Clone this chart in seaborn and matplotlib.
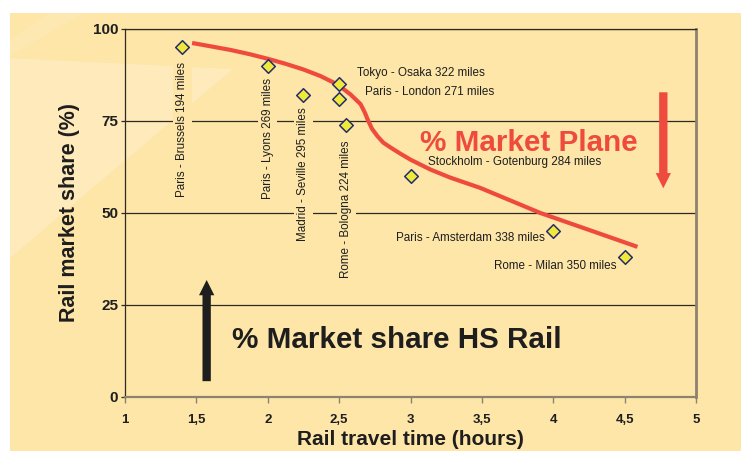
import matplotlib
matplotlib.use("Agg")
import matplotlib.pyplot as plt
import seaborn as sns
import pandas as pd
from matplotlib.patches import Rectangle, Polygon

# ---- data -------------------------------------------------------------
routes = [
    "Paris - Brussels 194 miles",
    "Paris - Lyons 269 miles",
    "Madrid - Seville 295 miles",
    "Tokyo - Osaka 322 miles",
    "Paris - London 271 miles",
    "Rome - Bologna 224 miles",
    "Stockholm - Gotenburg 284 miles",
    "Paris - Amsterdam 338 miles",
    "Rome - Milan 350 miles",
]
travel_hours = [1.4, 2.0, 2.25, 2.5, 2.5, 2.55, 3.0, 4.0, 4.5]
rail_share = [95, 90, 82, 85, 81, 74, 60, 45, 38]

# plane market trend line
plane_hours = [1.47, 1.60, 1.74, 1.88, 2.00, 2.12, 2.25, 2.37, 2.49, 2.58,
               2.65, 2.68, 2.70, 2.73, 2.77, 2.81, 2.86, 2.93, 3.00, 3.14,
               3.28, 3.49, 3.91, 4.31, 4.59]
plane_share = [96.2, 95.3, 94.3, 93.1, 91.9, 90.6, 89.0, 87.2, 84.9, 82.2,
               79.6, 77.3, 75.4, 72.9, 70.8, 69.1, 67.8, 66.1, 64.5, 61.8,
               59.6, 56.8, 50.0, 44.6, 40.8]

x_ticks = [1, 1.5, 2, 2.5, 3, 3.5, 4, 4.5, 5]
x_tick_labels = ["1", "1,5", "2", "2,5", "3", "3,5", "4", "4,5", "5"]
y_ticks = [0, 25, 50, 75, 100]

# ---- label layout (anchor x, anchor y, rotation, ha, va) ---------------
label_layout = {
    "Paris - Brussels 194 miles": (1.4, 91.0, 90, "center", "top"),
    "Paris - Lyons 269 miles": (2.0, 86.7, 90, "center", "top"),
    "Madrid - Seville 295 miles": (2.25, 78.8, 90, "center", "top"),
    "Rome - Bologna 224 miles": (2.55, 69.8, 90, "center", "top"),
    "Tokyo - Osaka 322 miles": (2.625, 88.1, 0, "left", "center"),
    "Paris - London 271 miles": (2.681, 82.8, 0, "left", "center"),
    "Stockholm - Gotenburg 284 miles": (3.123, 63.8, 0, "left", "center"),
    "Paris - Amsterdam 338 miles": (3.942, 43.1, 0, "right", "center"),
    "Rome - Milan 350 miles": (4.44, 35.7, 0, "right", "center"),
}

# ---- style ------------------------------------------------------------
sns.set_style("ticks")
plt.rcParams["font.family"] = ["Liberation Sans", "DejaVu Sans"]

BG = "#FDE6A8"
BG_LIGHT = "#FEEABA"
RED = "#EE4B3E"
YELLOW = "#F1E93A"
NAVY = "#222C6E"
INK = "#1E1E1E"
GRID = "#2E2A22"
GREY = "#8C8270"

W, H = 741, 451
fig = plt.figure(figsize=(W / 100, H / 100), dpi=100)
fig.patch.set_facecolor("white")


def px(x, y):
    return (x / W, 1 - y / H)


# panel background with light decorative wedges
fig.add_artist(Rectangle(px(10, H), 1, (H - 13) / H, transform=fig.transFigure,
                         facecolor=BG, edgecolor="none", zorder=-10))
fig.add_artist(Polygon([px(10, 58), px(233, 69), px(10, 258)],
                       transform=fig.transFigure, facecolor=BG_LIGHT,
                       edgecolor="none", zorder=-9))
fig.add_artist(Polygon([px(10, 40), px(50, 13), px(83, 13), px(10, 56)],
                       transform=fig.transFigure, facecolor="#FEE8B2",
                       edgecolor="none", zorder=-9))

ax = fig.add_axes([125 / W, 1 - 397 / H, (696 - 125) / W, (397 - 29) / H])
ax.set_facecolor("none")

df = pd.DataFrame({"route": routes, "hours": travel_hours, "share": rail_share})
curve = pd.DataFrame({"hours": plane_hours, "share": plane_share})

sns.lineplot(data=curve, x="hours", y="share", sort=False, estimator=None,
             color=RED, linewidth=3.0, solid_capstyle="butt",
             solid_joinstyle="round", ax=ax, zorder=3)
sns.scatterplot(data=df, x="hours", y="share", marker="D", s=48,
                color=YELLOW, edgecolor=NAVY, linewidth=1.1, ax=ax, zorder=5)

for name in routes:
    x, y, rot, ha, va = label_layout[name]
    kw = {}
    if rot == 90:
        kw["bbox"] = dict(boxstyle="square,pad=0.3", facecolor=BG, edgecolor="none")
    ax.text(x, y, name, rotation=rot, ha=ha, va=va, fontsize=8.4,
            color=INK, zorder=4, **kw)

# annotations
ax.text(3.827, 66.8, "% Market Plane", color=RED, fontsize=21.3,
        fontweight="bold", ha="center", va="baseline", zorder=4)
ax.text(2.905, 13.3, "% Market share HS Rail", color=INK, fontsize=21.3,
        fontweight="bold", ha="center", va="baseline", zorder=4)
ax.annotate("", xy=(1.572, 31.8), xytext=(1.572, 4.3),
            arrowprops=dict(width=6, headwidth=11, headlength=11, shrink=0,
                            facecolor=INK, edgecolor="none"), zorder=4)
ax.annotate("", xy=(4.771, 56.7), xytext=(4.771, 82.8),
            arrowprops=dict(width=6, headwidth=11, headlength=11, shrink=0,
                            facecolor=RED, edgecolor="none"), zorder=4)

# axes
ax.set_xlim(1, 5)
ax.set_ylim(0, 100)
ax.set_xticks(x_ticks)
ax.set_xticklabels(x_tick_labels, fontsize=9.5, fontweight="bold", color=INK)
ax.set_yticks(y_ticks)
ax.set_yticklabels([str(v) for v in y_ticks], fontsize=11, fontweight="bold", color=INK)
ax.yaxis.grid(True, color=GRID, linewidth=0.9)
ax.set_axisbelow(True)
ax.tick_params(axis="x", direction="out", length=4, width=1, color=GREY, pad=8)
ax.tick_params(axis="y", direction="out", length=3, width=0.9, color=GRID, pad=2)

ax.set_xlabel("Rail travel time (hours)", fontsize=15, fontweight="bold",
              color=INK, labelpad=3)
ax.set_ylabel("Rail market share (%)", fontsize=15.5, fontweight="bold",
              color=INK, labelpad=9)

for side in ("left", "top"):
    ax.spines[side].set_color(GRID)
    ax.spines[side].set_linewidth(0.9)
ax.spines["bottom"].set_color(GREY)
ax.spines["bottom"].set_linewidth(1.6)
ax.spines["right"].set_visible(True)
ax.spines["right"].set_color(GREY)
ax.spines["right"].set_linewidth(2)

fig.savefig("out.png", dpi=100, facecolor=fig.get_facecolor())
